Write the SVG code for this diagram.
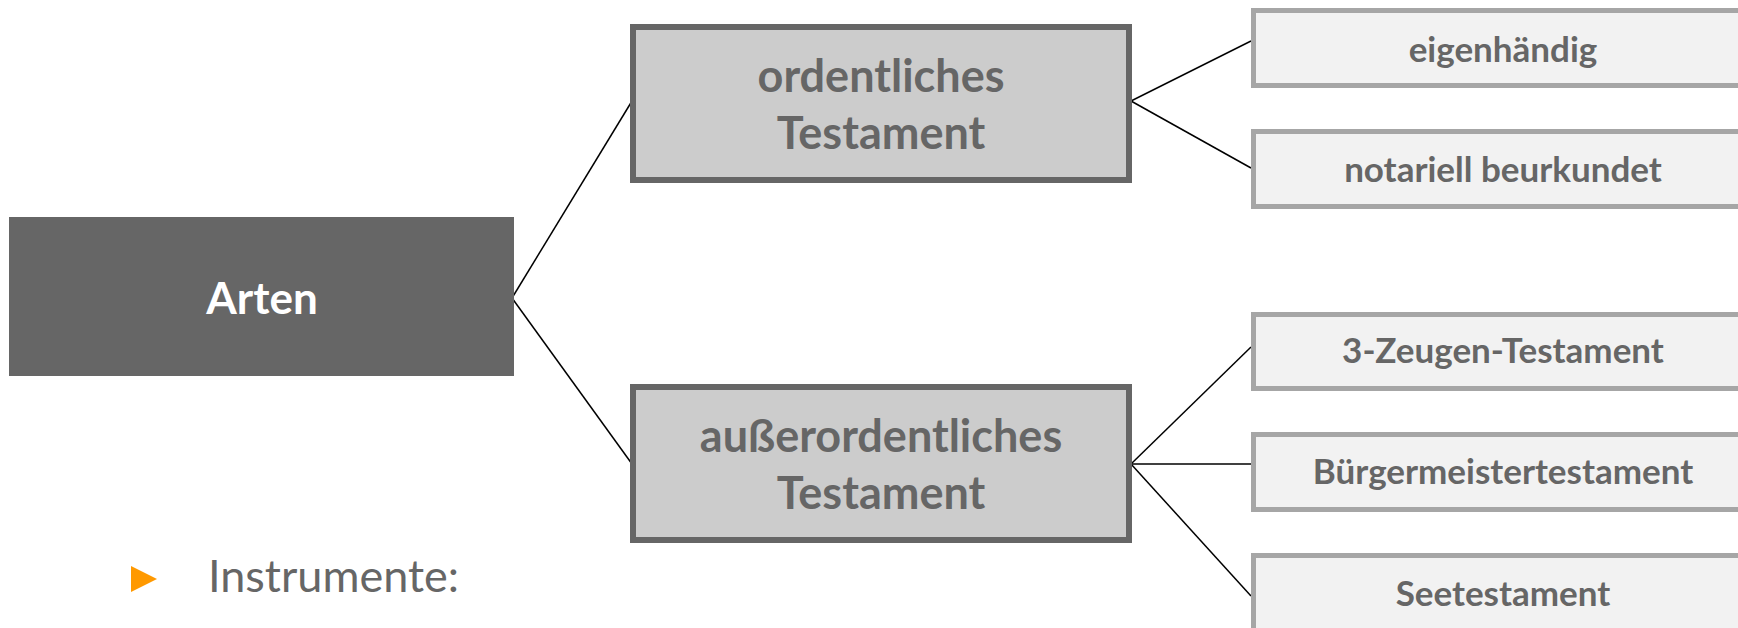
<svg xmlns="http://www.w3.org/2000/svg" width="1738" height="628" viewBox="0 0 1738 628">
<style>
.root{fill:#666666}
.mid{fill:#cccccc;stroke:#666666;stroke-width:6}
.leaf{fill:#f2f2f2;stroke:#a6a6a6;stroke-width:5}
.t{font-family:Lato,"Open Sans",sans-serif;font-weight:bold;text-anchor:middle;fill:#666666}
.rt{font-family:Lato,"Open Sans",sans-serif;font-weight:bold;text-anchor:middle;fill:#ffffff;font-size:44px}
.mt{font-size:45px}
.lt{font-size:35px}
.con line{stroke:#000000;stroke-width:1.5;fill:none}
</style>
<rect width="1738" height="628" fill="#ffffff"/>
<g class="con">
<line x1="512" y1="298" x2="632" y2="101"/>
<line x1="512" y1="298" x2="632" y2="464"/>
<line x1="1131" y1="101" x2="1251" y2="41"/>
<line x1="1131" y1="101" x2="1251" y2="168"/>
<line x1="1131" y1="464" x2="1251" y2="347"/>
<line x1="1131" y1="464" x2="1251" y2="464"/>
<line x1="1131" y1="464" x2="1251" y2="596"/>
</g>
<g id="arten">
<rect class="root" x="9" y="217" width="505" height="159"/>
<text class="rt" x="262" y="314">Arten</text>
</g>
<g id="ordentlich">
<rect class="mid" x="633" y="27" width="496" height="153"/>
<text class="t mt" x="881" y="92">ordentliches</text>
<text class="t mt" x="881" y="149">Testament</text>
</g>
<g id="ausserordentlich">
<rect class="mid" x="633" y="387" width="496" height="153"/>
<text class="t mt" x="881" y="452">außerordentliches</text>
<text class="t mt" x="881" y="509">Testament</text>
</g>
<g id="eigenhaendig">
<rect class="leaf" x="1253.5" y="10.5" width="520" height="75"/>
<text class="t lt" x="1503" y="62">eigenhändig</text>
</g>
<g id="notariell">
<rect class="leaf" x="1253.5" y="131.5" width="520" height="75"/>
<text class="t lt" x="1503" y="182">notariell beurkundet</text>
</g>
<g id="zeugen">
<rect class="leaf" x="1253.5" y="314.5" width="520" height="74"/>
<text class="t lt" x="1503" y="363">3-Zeugen-Testament</text>
</g>
<g id="buergermeister">
<rect class="leaf" x="1253.5" y="434.5" width="520" height="75"/>
<text class="t lt" x="1503" y="484">Bürgermeistertestament</text>
</g>
<g id="see">
<rect class="leaf" x="1253.5" y="555.5" width="520" height="75"/>
<text class="t lt" x="1503" y="606">Seetestament</text>
</g>
<g id="bullet">
<polygon points="131,566 157,579 131,592" fill="#ff9900"/>
<text x="208" y="592" font-family="Lato,'Open Sans',sans-serif" font-size="45px" fill="#666666">Instrumente:</text>
</g>
</svg>
